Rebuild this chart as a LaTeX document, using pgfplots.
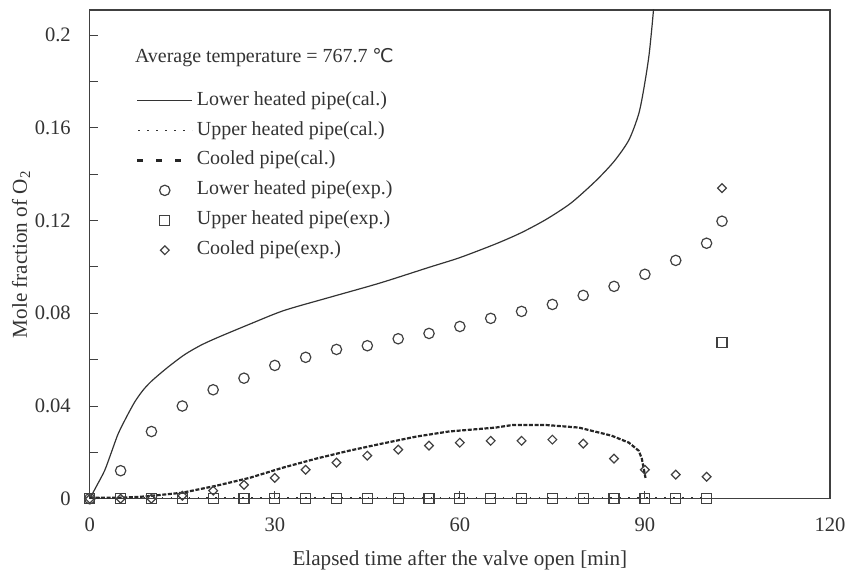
\documentclass[border=0pt]{standalone}
\usepackage{fontspec}
\setmainfont{Liberation Serif}
\newfontfamily\symfont{DejaVu Sans}
\usepackage{pgfplots}
\pgfplotsset{compat=1.18}
\pgfplotsset{
  linelegend/.style={legend image code/.code={\draw[##1] (0pt,0pt) -- (27.5pt,0pt);}},
  dotlegend/.style={legend image code/.code={\draw[black!80, line width=0.7pt, dash pattern=on 0.7pt off 3.8pt] (0.5pt,0pt) -- (27.5pt,0pt);}},
  marklegend/.style={legend image code/.code={\draw[##1] plot coordinates {(13.75pt,0pt)};}},
  dashlegend/.style={legend image code/.code={\draw[black!85, line width=1.3pt, dash pattern=on 3pt off 6.5pt] (0pt,0pt) -- (22.5pt,0pt);}},
}
\begin{document}
\fontsize{10}{12}\selectfont
\begin{tikzpicture}
\begin{axis}[
  name=ax,
  scale only axis,
  width=371pt, height=245pt,
  xmin=0, xmax=120, ymin=0, ymax=0.2108,
  axis line style={black!75, line width=0.6pt},
  xtick={0,30,60,90,120},
  ytick={0,0.04,0.08,0.12,0.16,0.2},
  yticklabels={0,0.04,0.08,0.12,0.16,0.2},
  minor ytick={0.02,0.06,0.1,0.14,0.18},
  tick align=inside,
  xtick pos=bottom, ytick pos=left,
  major tick length=4pt, minor tick length=4pt,
  tick style={black!75, line width=0.5pt},
  /pgf/number format/assume math mode=true,
  ticklabel style={font=\fontsize{10.3}{12}\selectfont, text=black!80},
  yticklabel style={xshift=-6pt},
  xticklabel style={yshift=-6pt},
  xlabel={Elapsed time after the valve open [min]},
  ylabel={Mole fraction of O\textsubscript{2}},
  label style={font=\fontsize{10.6}{12}\selectfont, text=black!80},
  xlabel style={yshift=-2.5pt},
  ylabel style={yshift=-4.5pt},
  legend cell align=left,
  legend style={draw=none, fill=none, at={(rel axis cs:0.062,0.846)}, anchor=north west,
    inner sep=0pt, row sep=0pt,
    nodes={inner ysep=2.75pt, text height=7pt, text depth=2.5pt, font=\fontsize{10}{12}\selectfont, text=black!80}},
  clip=true,
]
% Lower heated pipe (cal.)
\addplot[black!80, line width=0.6pt, smooth, tension=0.45, linelegend] coordinates {
(0,0) (1,0.005) (2.4,0.0121) (3.5,0.020) (4.6,0.028) (6,0.0355) (7.3,0.0418) (8.6,0.0467)
(10,0.0507) (12.6,0.0566) (15.4,0.0622) (18,0.0662) (20.7,0.0695) (26.2,0.0756) (31.5,0.0812)
(38.8,0.0868) (47,0.093) (55,0.0998) (60,0.104) (65.9,0.110) (70,0.1148) (74,0.1205)
(78,0.1275) (82,0.137) (85,0.1455) (87.4,0.1547) (89,0.166) (89.9,0.178) (90.7,0.192) (91.4,0.211) (91.6,0.22)
};
\addlegendentry{Lower heated pipe(cal.)}
% Upper heated pipe (cal.)
\addplot[black!80, line width=0.7pt, dash pattern=on 0.7pt off 3.8pt, dotlegend] coordinates {
(0,0.0005) (10,0.0005) (20,0.0005) (40,0.0005) (60,0.0005) (80,0.0005) (90,0.0005) (100,0.0005)
};
\addlegendentry{Upper heated pipe(cal.)}
% Cooled pipe (cal.)
\addplot[black!85, line width=1.1pt, dash pattern=on 2pt off 0.8pt, dashlegend] coordinates {
(0,0.0005) (5,0.0005) (8,0.0008) (9.7,0.0012) (12,0.0018) (15,0.0026) (20.5,0.0056) (25.9,0.009)
(31.3,0.0134) (36.7,0.0173) (42,0.0207) (47.4,0.0238) (52.9,0.0268) (58.2,0.029) (65.8,0.0307)
(68.5,0.0318) (74,0.0318) (79.3,0.0307) (84.6,0.0272) (87.4,0.0242) (89,0.0207) (89.5,0.0173) (90.1,0.009)
};
\addlegendentry{Cooled pipe(cal.)}
% Lower heated pipe (exp.)
\addplot[only marks, mark=o, mark size=2.6pt, black!75, mark options={line width=0.6pt}, marklegend] coordinates {
(0,0) (5,0.0121) (10,0.029) (15,0.040) (20,0.047) (25,0.052) (30,0.0575) (35,0.061)
(40,0.0644) (45,0.066) (50,0.069) (55,0.0713) (60,0.0743) (65,0.0778) (70,0.0808)
(75,0.0838) (80,0.0877) (85,0.0916) (90,0.0968) (95,0.1028) (100,0.1102) (102.5,0.1197)
};
\addlegendentry{Lower heated pipe(exp.)}
% Upper heated pipe (exp.)
\addplot[only marks, mark=square, mark size=2.5pt, black!75, mark options={line width=0.6pt}, marklegend] coordinates {
(0,0) (5,0) (10,0) (15,0) (20,0) (25,0) (30,0) (35,0) (40,0) (45,0) (50,0)
(55,0) (60,0) (65,0) (70,0) (75,0) (80,0) (85,0) (90,0) (95,0) (100,0) (102.5,0.0674)
};
\addlegendentry{Upper heated pipe(exp.)}
% Cooled pipe (exp.)
\addplot[only marks, mark=square, mark size=1.55pt, black!75, mark options={line width=0.6pt, rotate=45}, marklegend] coordinates {
(0,0) (5,0) (10,0) (15,0.0013) (20,0.0035) (25,0.006) (30,0.009) (35,0.0125) (40,0.0156)
(45,0.0186) (50,0.0212) (55,0.0229) (60,0.0242) (65,0.025) (70,0.025) (75,0.0255)
(80,0.0238) (85,0.0173) (90,0.0125) (95,0.0104) (100,0.0095) (102.5,0.134)
};
\addlegendentry{Cooled pipe(exp.)}
\node[anchor=west, inner sep=0pt, text=black!80, font=\fontsize{10}{12}\selectfont]
  at (rel axis cs:0.0606,0.902) {Average temperature = 767.7 {\symfont\fontsize{9.5}{12}\selectfont ℃}};
\end{axis}
\path ([shift={(-45pt,-37.5pt)}]ax.south west) rectangle ([shift={(10pt,5pt)}]ax.north east);
\end{tikzpicture}
\end{document}
